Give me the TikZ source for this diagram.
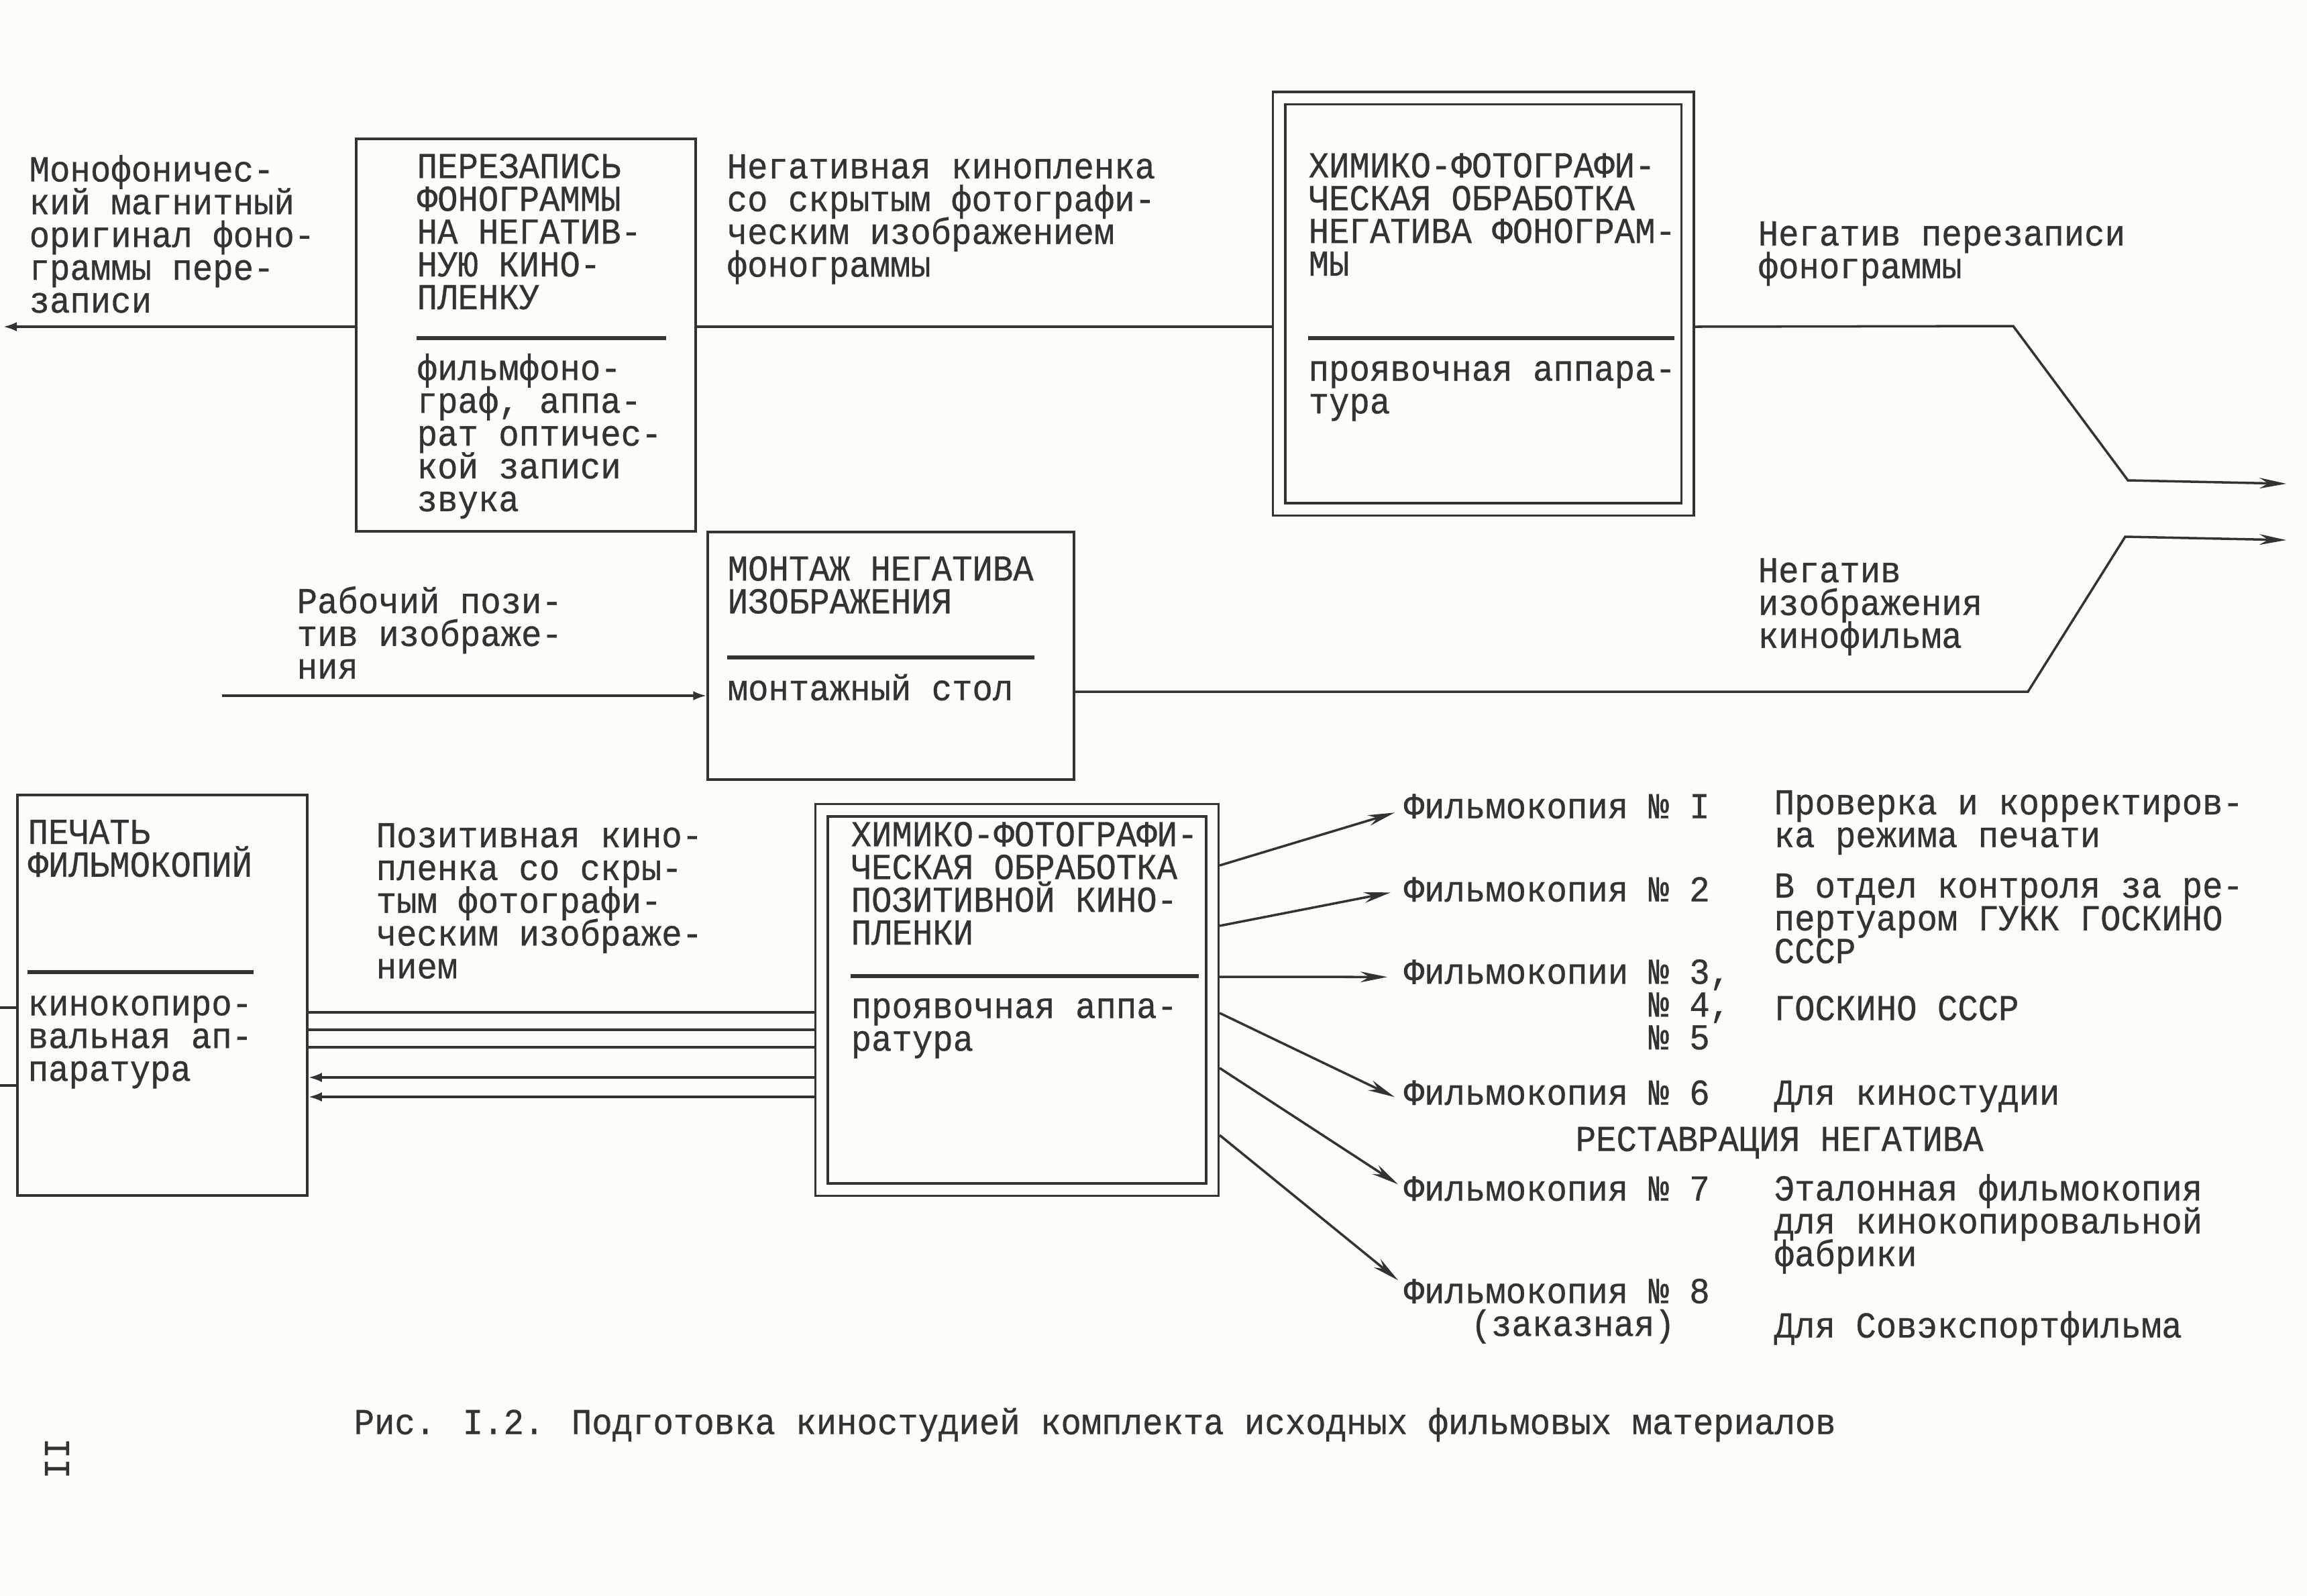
\documentclass[tikz,border=0pt]{standalone}
\usepackage{fontspec}
\usepackage{tikz}
\usetikzlibrary{arrows.meta}
\newfontfamily\tw[FakeStretch=0.93,FakeBold=0.6]{Liberation Mono}
\newcommand\twfont{\tw\fontsize{15.5pt}{13.9pt}\selectfont\lineskiplimit=-50pt\relax}
\newcommand\tstrut{\rule{0pt}{15pt}}
\definecolor{paper}{rgb}{0.992,0.988,0.976}
\definecolor{ink}{rgb}{0.2,0.2,0.2}

\begin{document}
\begin{tikzpicture}[
  box/.style={draw=ink, line width=1pt, inner sep=0pt},
  dbox/.style={box, double=paper, double distance=1.5mm, outer sep=1.1mm},
  txt/.style={anchor=north west, yshift=15pt, inner sep=0pt, align=left, text=ink,
    font=\twfont, execute at begin node=\tstrut},
  wire/.style={draw=ink, line width=1pt},
  rule/.style={draw=ink, line width=1.8pt},
  arr/.style={wire, -{Stealth[length=4mm, width=1.6mm]}},
  tip/.style={wire, -{Latex[length=2mm, width=1.4mm]}}
]
\fill[paper] (0,0) rectangle (34.39,-23.78);
\useasboundingbox (0,0) rectangle (34.39,-23.78);

\node[box, minimum width=5.06cm, minimum height=5.85cm] (box1) at (7.84,-4.995) {};
\node[dbox, minimum width=6.09cm, minimum height=6.13cm] (box2) at (22.11,-4.525) {};
\node[box, minimum width=5.46cm, minimum height=3.69cm] (box3) at (13.28,-9.775) {};
\node[box, minimum width=4.32cm, minimum height=5.97cm] (box4) at (2.42,-14.835) {};
\node[dbox, minimum width=5.825cm, minimum height=5.655cm] (box5) at (15.158,-14.903) {};

\node[txt] (mono) at (0.43,-2.83) {Монофоничес-\\кий магнитный\\оригинал фоно-\\граммы пере-\\записи};
\node[txt] (t1) at (6.21,-2.81) {ПЕРЕЗАПИСЬ\\ФОНОГРАММЫ\\НА НЕГАТИВ-\\НУЮ КИНО-\\ПЛЕНКУ};
\node[txt] (b1) at (6.21,-5.79) {фильмфоно-\\граф, аппа-\\рат оптичес-\\кой записи\\звука};
\node[txt] (neg) at (10.83,-2.82) {Негативная кинопленка\\со скрытым фотографи-\\ческим изображением\\фонограммы};
\node[txt] (t2) at (19.50,-2.80) {ХИМИКО-ФОТОГРАФИ-\\ЧЕСКАЯ ОБРАБОТКА\\НЕГАТИВА ФОНОГРАМ-\\МЫ};
\node[txt] (b2) at (19.50,-5.90) {проявочная аппара-\\тура};
\node[txt] (negs) at (26.20,-3.82) {Негатив перезаписи\\фонограммы};
\node[txt] (rab) at (4.42,-9.26) {Рабочий пози-\\тив изображе-\\ния};
\node[txt] (t3) at (10.84,-8.81) {МОНТАЖ НЕГАТИВА\\ИЗОБРАЖЕНИЯ};
\node[txt] (b3) at (10.84,-10.43) {монтажный стол};
\node[txt] (negi) at (26.20,-8.84) {Негатив\\изображения\\кинофильма};
\node[txt] (t4) at (0.41,-12.74) {ПЕЧАТЬ\\ФИЛЬМОКОПИЙ};
\node[txt] (b4) at (0.41,-15.36) {кинокопиро-\\вальная ап-\\паратура};
\node[txt] (pos) at (5.60,-12.79) {Позитивная кино-\\пленка со скры-\\тым фотографи-\\ческим изображе-\\нием};
\node[txt] (t5) at (12.68,-12.77) {ХИМИКО-ФОТОГРАФИ-\\ЧЕСКАЯ ОБРАБОТКА\\ПОЗИТИВНОЙ КИНО-\\ПЛЕНКИ};
\node[txt] (b5) at (12.68,-15.40) {проявочная аппа-\\ратура};

\node[txt] (f1) at (20.92,-12.19) {Фильмокопия № I};
\node[txt] (d1) at (26.44,-12.30) {Проверка и корректиров-\\ка режима печати};
\node[txt] (f2) at (20.92,-13.43) {Фильмокопия № 2};
\node[txt] (d2) at (26.44,-13.54) {В отдел контроля за ре-\\пертуаром ГУКК ГОСКИНО\\СССР};
\node[txt] (f3) at (20.92,-14.82) {Фильмокопии № 3,\\\hphantom{Фильмокопии }№ 4,\\\hphantom{Фильмокопии }№ 5};
\node[txt] (d3) at (26.44,-15.20) {ГОСКИНО СССР};
\node[txt] (f6) at (20.92,-16.46) {Фильмокопия № 6};
\node[txt] (d6) at (26.44,-16.46) {Для киностудии};
\node[txt] (rest) at (23.48,-17.15) {РЕСТАВРАЦИЯ НЕГАТИВА};
\node[txt] (f7) at (20.92,-17.89) {Фильмокопия № 7};
\node[txt] (d7) at (26.44,-18.02) {Эталонная фильмокопия\\для кинокопировальной\\фабрики};
\node[txt] (f8) at (20.92,-19.58) {Фильмокопия № 8\\\hspace*{1cm}(заказная)};
\node[txt] (d8) at (26.44,-19.93) {Для Совэкспортфильма};
\node[txt] (cap) at (5.27,-21.37) {Рис. I.2. Подготовка киностудией комплекта исходных фильмовых материалов};
\node[text=ink, font=\twfont, rotate=90, inner sep=0pt] (pg) at (0.85,-21.74) {II};

\draw[rule] (6.21,-5.04) -- (9.93,-5.04);
\draw[rule] (19.50,-5.04) -- (24.96,-5.04);
\draw[rule] (10.84,-9.80) -- (15.42,-9.80);
\draw[rule] (0.41,-14.49) -- (3.78,-14.49);
\draw[rule] (12.68,-14.55) -- (17.87,-14.55);

\coordinate (inL) at (0.05,-4.87);
\coordinate (inR) at (3.31,-10.37);
\coordinate (k1) at (30.01,-4.86);
\coordinate (k2) at (31.72,-7.16);
\coordinate (o1) at (34.08,-7.21);
\coordinate (k3) at (30.23,-10.31);
\coordinate (k4) at (31.68,-8.00);
\coordinate (o2) at (34.08,-8.05);

\draw[tip] (box1.west |- inL) -- (inL);
\draw[wire] (box1.east |- inL) -- (box2.west |- inL);
\draw[arr] (box2.east |- inL) -- (k1) -- (k2) -- (o1);
\draw[tip] (inR) -- (box3.west |- inR);
\draw[arr] (box3.east |- k3) -- (k3) -- (k4) -- (o2);
\draw[wire] (0,-15.02) -- (box4.west |- 0,-15.02);
\draw[wire] (0,-16.18) -- (box4.west |- 0,-16.18);
\foreach \y in {15.09,15.35,15.61}
  \draw[wire] (box4.east |- 0,-\y) -- (box5.west |- 0,-\y);
\foreach \y in {16.06,16.35}
  \draw[tip] (box5.west |- 0,-\y) -- (box4.east |- 0,-\y);
\foreach \ys/\lbl/\dx/\dy in {12.90/f1/-0.13/-0.45, 13.80/f2/-0.19/-0.40, 14.56/f3/-0.24/-0.27,
    15.10/f6/-0.13/-0.42, 15.92/f7/-0.08/-0.29, 16.92/f8/-0.08/-0.03}
  \draw[arr] (box5.east |- 0,-\ys) -- ([xshift=\dx cm, yshift=\dy cm]\lbl.north west);
\end{tikzpicture}
\end{document}
